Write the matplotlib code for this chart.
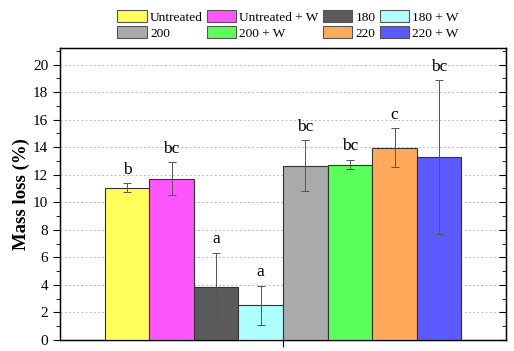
import matplotlib.pyplot as plt
import numpy as np
from matplotlib.patches import Patch
from matplotlib.ticker import MultipleLocator

plt.rcParams['font.family'] = ['Liberation Serif', 'DejaVu Serif']

labels = ["Untreated", "Untreated + W", "180", "180 + W", "200", "200 + W", "220", "220 + W"]
values = [11.07, 11.7, 3.82, 2.52, 12.65, 12.73, 13.95, 13.27]
errors = [0.3, 1.2, 2.5, 1.4, 1.85, 0.35, 1.42, 5.6]
letters = ["b", "bc", "a", "a", "bc", "bc", "c", "bc"]
colors = ["#FFFF5A", "#FF55FF", "#5A5A5A", "#B0FFFF", "#AAAAAA", "#5AFF5A", "#FFAA5A", "#5A5AFF"]

fig = plt.figure(figsize=(5.14, 3.51), dpi=100)
ax = fig.add_axes([60/514, 11/351, 446/514, 292/351])

pos = np.arange(1, len(values) + 1)
ax.bar(pos, values, width=1.0, color=colors, edgecolor="#333333", linewidth=0.8, zorder=3)
ax.errorbar(pos, values, yerr=errors, fmt="none", ecolor="#555555", elinewidth=0.7,
            capsize=3, capthick=0.7, zorder=4)

for p, v, e, t in zip(pos, values, errors, letters):
    ax.text(p, v + e + 0.4, t, ha="center", va="bottom", fontsize=12.5)

ax.set_xlim(-0.5, 9.5)
ax.set_ylim(0, 21.2)
ax.set_xticks([4.5])
ax.set_xticklabels([])
ax.yaxis.set_major_locator(MultipleLocator(2))
ax.yaxis.set_minor_locator(MultipleLocator(1))
ax.tick_params(axis="y", which="major", direction="out", length=5, labelsize=11)
ax.tick_params(axis="y", which="minor", direction="out", length=3)
ax.tick_params(axis="x", direction="out", length=5)
ax.yaxis.grid(True, linestyle=(0, (2.5, 2.5)), color="#b5b5b5", linewidth=0.6, zorder=0)
ax.set_ylabel("Mass loss (%)", fontsize=13.5, fontweight="bold", labelpad=2)
for s in ax.spines.values():
    s.set_linewidth(1.0)

# mirrored ticks on the right point inward
ax2 = ax.twinx()
ax2.set_ylim(ax.get_ylim())
ax2.yaxis.set_major_locator(MultipleLocator(2))
ax2.yaxis.set_minor_locator(MultipleLocator(1))
ax2.tick_params(axis="y", which="major", direction="in", length=5, labelright=False)
ax2.tick_params(axis="y", which="minor", direction="in", length=3)

# legend is filled column-wise, so interleave the two rows
handles = [Patch(facecolor=c, edgecolor="#555555", linewidth=0.8) for c in colors]
order = [0, 4, 1, 5, 2, 6, 3, 7]
fig.legend([handles[i] for i in order], [labels[i] for i in order], ncol=4,
           loc="center", bbox_to_anchor=(288/514, 1 - 25/351), frameon=False,
           fontsize=9.6, handlelength=2.2, handleheight=0.95, handletextpad=0.25,
           columnspacing=0.3, labelspacing=0.2, borderpad=0)

fig.savefig("out.png", dpi=100)
